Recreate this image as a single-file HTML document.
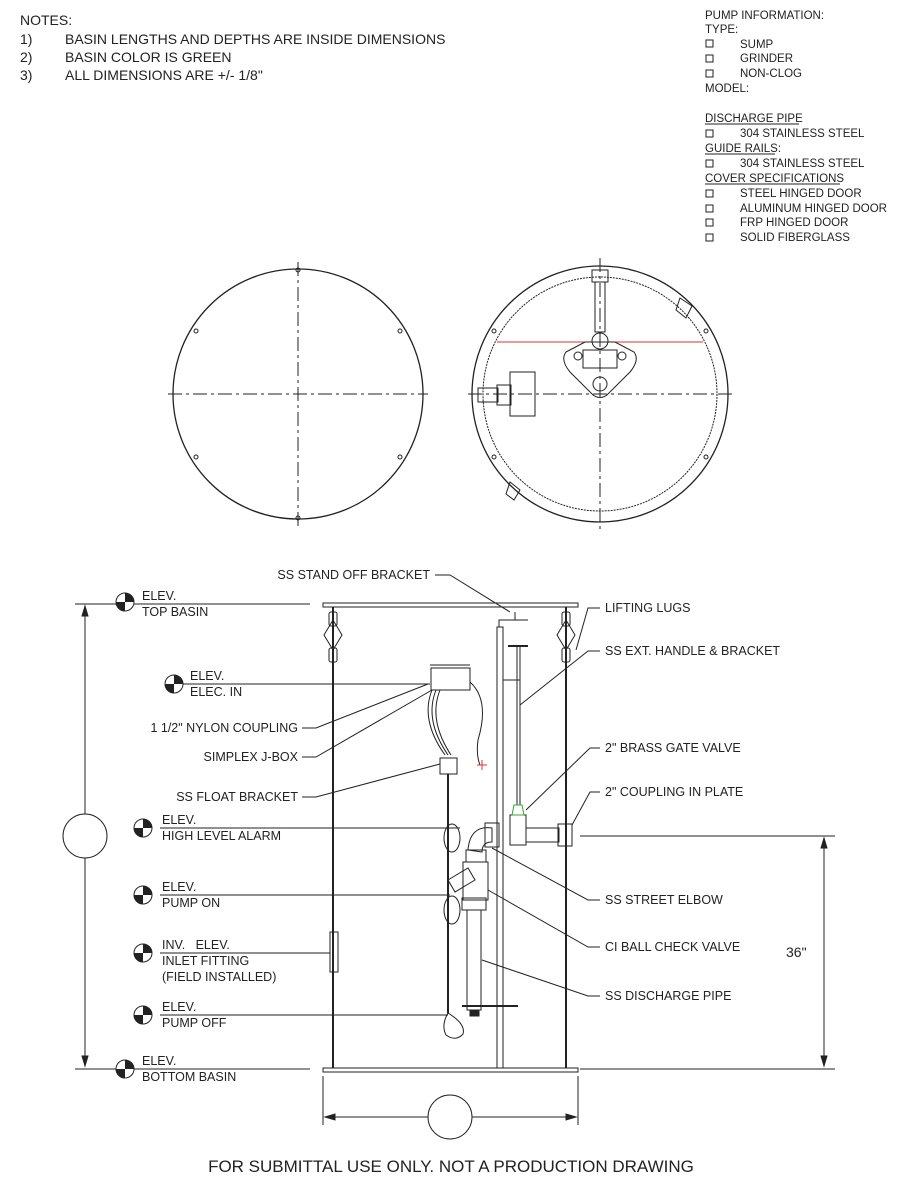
<!DOCTYPE html>
<html><head><meta charset="utf-8"><style>
html,body{margin:0;padding:0;background:#fff;}
svg{display:block;}
text{font-family:"Liberation Sans",sans-serif;fill:#222;}
</style></head><body>
<svg width="903" height="1200" viewBox="0 0 903 1200" xmlns="http://www.w3.org/2000/svg">
<g font-size="14">
<text x="20" y="25">NOTES:</text>
<text x="20" y="44">1)</text><text x="65" y="44">BASIN LENGTHS AND DEPTHS ARE INSIDE DIMENSIONS</text>
<text x="20" y="62">2)</text><text x="65" y="62">BASIN COLOR IS GREEN</text>
<text x="20" y="80">3)</text><text x="65" y="80">ALL DIMENSIONS ARE +/- 1/8"</text>
</g>
<g font-size="11.5">
<text x="705" y="19">PUMP INFORMATION:</text>
<text x="705" y="33">TYPE:</text>
<text x="740" y="48">SUMP</text><text x="740" y="62">GRINDER</text><text x="740" y="77">NON-CLOG</text>
<text x="705" y="92">MODEL:</text>
<text x="705" y="122">DISCHARGE PIPE</text><line x1="705" y1="124" x2="799" y2="124" stroke="#222"/>
<text x="740" y="137">304 STAINLESS STEEL</text>
<text x="705" y="152">GUIDE RAILS:</text><line x1="705" y1="154" x2="775" y2="154" stroke="#222"/>
<text x="740" y="167">304 STAINLESS STEEL</text>
<text x="705" y="182">COVER SPECIFICATIONS</text><line x1="705" y1="184" x2="840" y2="184" stroke="#222"/>
<text x="740" y="197">STEEL HINGED DOOR</text><text x="740" y="212">ALUMINUM HINGED DOOR</text>
<text x="740" y="226">FRP HINGED DOOR</text><text x="740" y="241">SOLID FIBERGLASS</text>
</g>
<g fill="none" stroke="#222" stroke-width="1">
<rect x="706" y="40" width="7" height="7"/><rect x="706" y="55" width="7" height="7"/><rect x="706" y="70" width="7" height="7"/>
<rect x="706" y="130" width="7" height="7"/><rect x="706" y="160" width="7" height="7"/>
<rect x="706" y="190" width="7" height="7"/><rect x="706" y="205" width="7" height="7"/><rect x="706" y="219" width="7" height="7"/><rect x="706" y="234" width="7" height="7"/>

<circle cx="298" cy="394" r="125" stroke-width="1.3"/>
<line x1="298" y1="262" x2="298" y2="526" stroke-dasharray="14,4,3,4"/>
<line x1="168" y1="394" x2="428" y2="394" stroke-dasharray="14,4,3,4"/>
<circle cx="298" cy="270" r="2"/><circle cx="298" cy="518" r="2"/>
<circle cx="196" cy="331" r="2"/><circle cx="400" cy="331" r="2"/><circle cx="196" cy="457" r="2"/><circle cx="400" cy="457" r="2"/>

<circle cx="600" cy="394" r="128" stroke-width="1.3"/>
<circle cx="600" cy="394" r="117" stroke-dasharray="2,1"/>
<line x1="600" y1="258" x2="600" y2="530" stroke-dasharray="14,4,3,4"/>
<line x1="468" y1="394" x2="733" y2="394" stroke-dasharray="14,4,3,4"/>
<circle cx="494" cy="331" r="2"/><circle cx="706" cy="331" r="2"/><circle cx="494" cy="457" r="2"/><circle cx="706" cy="457" r="2"/>
<line x1="497" y1="342" x2="703" y2="342" stroke="#d33"/>
<rect x="592" y="270" width="16" height="12"/>
<rect x="595" y="282" width="10" height="50"/>
<circle cx="600" cy="341" r="8"/>
<path d="M566 352 L585 342 L615 342 L634 352 Q640 360 630 372 L607 395 Q600 400 593 395 L570 372 Q560 360 566 352 Z"/>
<circle cx="578" cy="356" r="4"/><circle cx="622" cy="356" r="4"/>
<rect x="583" y="350" width="34" height="18"/>
<circle cx="600" cy="384" r="7"/>
<rect x="510" y="372" width="25" height="44"/>
<rect x="497" y="385" width="14" height="20"/>
<rect x="478" y="388" width="20" height="14"/>
<path d="M680 298 L692 306 L686 318 L676 310 Z"/>
<path d="M510 482 L520 490 L514 500 L506 494 Z"/>

<rect x="323" y="603" width="255" height="4"/>
<rect x="323" y="1068" width="255" height="4"/>
<line x1="333" y1="607" x2="333" y2="1068" stroke-width="2"/>
<line x1="566" y1="607" x2="566" y2="1068" stroke-width="2"/>
<path d="M333 620 L324 635 L333 650 M333 620 L342 635 L333 650"/>
<path d="M566 620 L557 635 L566 650 M566 620 L575 635 L566 650"/>
<rect x="329" y="612" width="8" height="14" rx="2"/><rect x="329" y="648" width="8" height="14" rx="2"/>
<rect x="562" y="612" width="8" height="14" rx="2"/><rect x="562" y="648" width="8" height="14" rx="2"/>
<rect x="497" y="627" width="6" height="441"/>
<path d="M499 627 L499 620 L515 620 L515 612 M515 620 L528 620"/>
<line x1="508" y1="646" x2="528" y2="646" stroke-width="2"/>
<line x1="517" y1="646" x2="517" y2="805"/>
<line x1="520" y1="646" x2="520" y2="805"/>
<line x1="503" y1="680" x2="520" y2="680"/>
<rect x="510" y="815" width="16" height="30"/>
<path d="M514 805 L522 805 L524 815 L512 815 Z" stroke="#3a3"/>
<rect x="526" y="828" width="33" height="14"/>
<rect x="558" y="824" width="14" height="22"/>
<rect x="485" y="823" width="14" height="24"/>
<path d="M468 850 Q470 825 492 828 L492 842 Q482 842 482 852 Z"/>
<rect x="466" y="850" width="20" height="12"/>
<path d="M463 862 L488 862 L488 900 L463 900 Z"/>
<path d="M448 880 L468 868 L475 880 L455 892 Z"/>
<rect x="462" y="898" width="24" height="12"/>
<rect x="467" y="910" width="14" height="100"/>
<rect x="470" y="1010" width="9" height="6" fill="#222"/>
<line x1="462" y1="1006" x2="518" y2="1006" stroke-width="2"/>
<rect x="431" y="668" width="39" height="22"/>
<line x1="430" y1="665" x2="470" y2="665"/>
<path d="M432 690 Q420 720 445 755 M436 690 Q424 720 448 755 M440 690 Q428 720 451 755"/>
<path d="M470 682 Q490 700 478 740 Q476 755 480 765"/>
<path d="M477 765 L487 765 M482 760 L482 770" stroke="#d33"/>
<rect x="440" y="758" width="17" height="16"/>
<line x1="448" y1="774" x2="448" y2="1013" stroke-width="2"/>
<ellipse cx="452" cy="838" rx="8" ry="14"/>
<ellipse cx="452" cy="910" rx="8" ry="14"/>
<path d="M448 1013 Q441 1025 446 1035 Q456 1042 463 1034 Q466 1024 448 1013 Z"/>
<rect x="330" y="932" width="8" height="40"/>

<line x1="75" y1="604" x2="310" y2="604"/>
<line x1="75" y1="1069" x2="310" y2="1069"/>
<line x1="85" y1="606" x2="85" y2="1066"/>
<path d="M85 606 l-3 10 l6 0 Z M85 1066 l-3 -10 l6 0 Z" fill="#222"/>
<circle cx="85" cy="836" r="22" fill="#fff"/>
<line x1="580" y1="836" x2="835" y2="836"/>
<line x1="580" y1="1069" x2="835" y2="1069"/>
<line x1="824" y1="838" x2="824" y2="1066"/>
<path d="M824 838 l-3 10 l6 0 Z M824 1066 l-3 -10 l6 0 Z" fill="#222"/>
<line x1="323" y1="1076" x2="323" y2="1125"/><line x1="578" y1="1076" x2="578" y2="1125"/>
<line x1="325" y1="1117" x2="576" y2="1117"/>
<path d="M325 1117 l10 -3 l0 6 Z M576 1117 l-10 -3 l0 6 Z" fill="#222"/>
<circle cx="450" cy="1117" r="22" fill="#fff"/>

<line x1="165" y1="684" x2="430" y2="684"/>
<line x1="160" y1="828" x2="460" y2="828"/>
<line x1="160" y1="895" x2="450" y2="895"/>
<line x1="160" y1="953" x2="330" y2="953"/>
<line x1="160" y1="1015" x2="448" y2="1015"/>
<path d="M435 575 L450 575 L510 612"/>
<path d="M600 608 L588 608 L576 650"/>
<path d="M600 651 L588 651 L520 705"/>
<path d="M600 748 L590 748 L526 810"/>
<path d="M600 792 L590 792 L572 825"/>
<path d="M600 900 L588 900 L492 848"/>
<path d="M600 947 L588 947 L488 890"/>
<path d="M600 996 L588 996 L482 960"/>
<path d="M302 728 L316 728 L428 684"/>
<path d="M302 757 L316 757 L432 690"/>
<path d="M302 797 L316 797 L440 764"/>
</g>
<g fill="#222">
<g transform="translate(125,602)"><circle r="9" fill="#fff" stroke="#222"/><path d="M0 -9 A9 9 0 0 1 9 0 L0 0 Z M0 9 A9 9 0 0 1 -9 0 L0 0Z"/></g>
<g transform="translate(174,684)"><circle r="9" fill="#fff" stroke="#222"/><path d="M0 -9 A9 9 0 0 1 9 0 L0 0 Z M0 9 A9 9 0 0 1 -9 0 L0 0Z"/></g>
<g transform="translate(143,828)"><circle r="9" fill="#fff" stroke="#222"/><path d="M0 -9 A9 9 0 0 1 9 0 L0 0 Z M0 9 A9 9 0 0 1 -9 0 L0 0Z"/></g>
<g transform="translate(143,895)"><circle r="9" fill="#fff" stroke="#222"/><path d="M0 -9 A9 9 0 0 1 9 0 L0 0 Z M0 9 A9 9 0 0 1 -9 0 L0 0Z"/></g>
<g transform="translate(143,953)"><circle r="9" fill="#fff" stroke="#222"/><path d="M0 -9 A9 9 0 0 1 9 0 L0 0 Z M0 9 A9 9 0 0 1 -9 0 L0 0Z"/></g>
<g transform="translate(143,1015)"><circle r="9" fill="#fff" stroke="#222"/><path d="M0 -9 A9 9 0 0 1 9 0 L0 0 Z M0 9 A9 9 0 0 1 -9 0 L0 0Z"/></g>
<g transform="translate(125,1069)"><circle r="9" fill="#fff" stroke="#222"/><path d="M0 -9 A9 9 0 0 1 9 0 L0 0 Z M0 9 A9 9 0 0 1 -9 0 L0 0Z"/></g>
</g>
<g font-size="12.5">
<text x="142" y="600">ELEV.</text><text x="142" y="616">TOP BASIN</text>
<text x="190" y="680">ELEV.</text><text x="190" y="696">ELEC. IN</text>
<text x="162" y="824">ELEV.</text><text x="162" y="840">HIGH LEVEL ALARM</text>
<text x="162" y="891">ELEV.</text><text x="162" y="907">PUMP ON</text>
<text x="162" y="949">INV.&#160;&#160; ELEV.</text><text x="162" y="965">INLET FITTING</text><text x="162" y="981">(FIELD INSTALLED)</text>
<text x="162" y="1011">ELEV.</text><text x="162" y="1027">PUMP OFF</text>
<text x="142" y="1065">ELEV.</text><text x="142" y="1081">BOTTOM BASIN</text>
<text x="430" y="579" text-anchor="end">SS STAND OFF BRACKET</text>
<text x="298" y="732" text-anchor="end">1 1/2" NYLON COUPLING</text>
<text x="298" y="761" text-anchor="end">SIMPLEX J-BOX</text>
<text x="298" y="801" text-anchor="end">SS FLOAT BRACKET</text>
<text x="605" y="612">LIFTING LUGS</text>
<text x="605" y="655">SS EXT. HANDLE &amp; BRACKET</text>
<text x="605" y="752">2" BRASS GATE VALVE</text>
<text x="605" y="796">2" COUPLING IN PLATE</text>
<text x="605" y="904">SS STREET ELBOW</text>
<text x="605" y="951">CI BALL CHECK VALVE</text>
<text x="605" y="1000">SS DISCHARGE PIPE</text>
</g>
<text x="786" y="957" font-size="14">36"</text>
<text x="451" y="1172" font-size="17" text-anchor="middle">FOR SUBMITTAL USE ONLY. NOT A PRODUCTION DRAWING</text>
</svg>
</body></html>
